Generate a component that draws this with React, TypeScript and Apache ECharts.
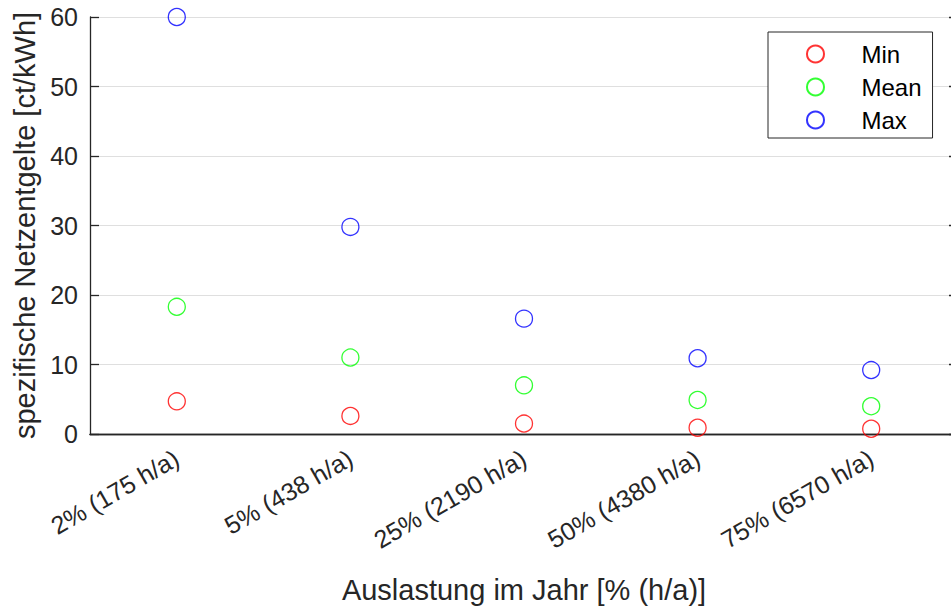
import React, { useEffect, useRef } from "react";
import * as echarts from "echarts";

const categories = ["2% (175 h/a)", "5% (438 h/a)", "25% (2190 h/a)", "50% (4380 h/a)", "75% (6570 h/a)"];
const minValues = [4.7, 2.6, 1.5, 0.9, 0.75];
const meanValues = [18.3, 11.0, 7.0, 4.9, 4.0];
const maxValues = [60.0, 29.8, 16.6, 10.9, 9.2];
const seriesNames = ["Min", "Mean", "Max"];
const seriesColors = ["#ff0000", "#00ff00", "#0000ff"];

const FONT = "Liberation Sans, Arial, Helvetica, sans-serif";
const AXIS = "#262626";

export default function App() {
  const ref = useRef<HTMLDivElement>(null);
  useEffect(() => {
    if (!ref.current) return;
    const chart = echarts.init(ref.current, null, { renderer: "svg" });
    const datasets = [minValues, meanValues, maxValues];
    chart.setOption({
      animation: false,
      backgroundColor: "#ffffff",
      textStyle: { fontFamily: FONT },
      grid: { left: 90, top: 17, width: 868, height: 417, containLabel: false, outerBoundsMode: "none" },
      legend: {
        orient: "vertical",
        left: 768,
        top: 32,
        padding: [10, 11, 6, 38],
        backgroundColor: "#ffffff",
        borderColor: AXIS,
        borderWidth: 1,
        itemWidth: 82,
        itemHeight: 17,
        itemGap: 9,
        symbolKeepAspect: true,
        textStyle: { fontSize: 24, color: "#000000", fontFamily: FONT },
        data: seriesNames,
      },
      xAxis: [
        {
          type: "category",
          data: categories,
          position: "bottom",
          boundaryGap: true,
          axisLine: { lineStyle: { color: AXIS, width: 1.3 } },
          axisTick: { inside: true, length: 9, alignWithLabel: true, lineStyle: { color: AXIS, width: 1.3 } },
          axisLabel: { rotate: 30, fontSize: 25, color: AXIS, margin: 22, fontFamily: FONT, interval: 0 },
          splitLine: { show: false },
          name: "Auslastung im Jahr [% (h/a)]",
          nameLocation: "middle",
          nameGap: 141,
          nameTextStyle: { fontSize: 29, color: AXIS, fontFamily: FONT },
        },
        {
          type: "category",
          data: categories,
          position: "top",
          boundaryGap: true,
          axisLine: { lineStyle: { color: AXIS, width: 1.3 } },
          axisTick: { inside: true, length: 9, alignWithLabel: true, lineStyle: { color: AXIS, width: 1.3 } },
          axisLabel: { show: false },
          splitLine: { show: false },
        },
      ],
      yAxis: [
        {
          type: "value",
          min: 0,
          max: 60,
          interval: 10,
          position: "left",
          axisLine: { show: true, lineStyle: { color: AXIS, width: 1.3 } },
          axisTick: { show: true, inside: true, length: 9, lineStyle: { color: AXIS, width: 1.3 } },
          axisLabel: { fontSize: 25, color: AXIS, margin: 12, fontFamily: FONT },
          splitLine: { show: true, lineStyle: { color: "#dfdfdf", width: 1 } },
          name: "spezifische Netzentgelte [ct/kWh]",
          nameLocation: "middle",
          nameGap: 44,
          nameTextStyle: { fontSize: 29, color: AXIS, fontFamily: FONT },
        },
        {
          type: "value",
          min: 0,
          max: 60,
          interval: 10,
          position: "right",
          axisLine: { show: true, lineStyle: { color: AXIS, width: 1.3 } },
          axisTick: { show: true, inside: true, length: 9, lineStyle: { color: AXIS, width: 1.3 } },
          axisLabel: { show: false },
          splitLine: { show: false },
        },
      ],
      series: seriesNames.map((name, i) => ({
        name,
        type: "scatter",
        xAxisIndex: 0,
        yAxisIndex: 0,
        symbol: "circle",
        symbolSize: 17,
        itemStyle: { color: "transparent", borderColor: seriesColors[i], borderWidth: 1.3 },
        emphasis: { disabled: true },
        data: datasets[i],
        z: 5,
      })),
    });
    return () => chart.dispose();
  }, []);
  return <div ref={ref} style={{ position: "fixed", left: 0, top: 0, width: 951, height: 607 }} />;
}
